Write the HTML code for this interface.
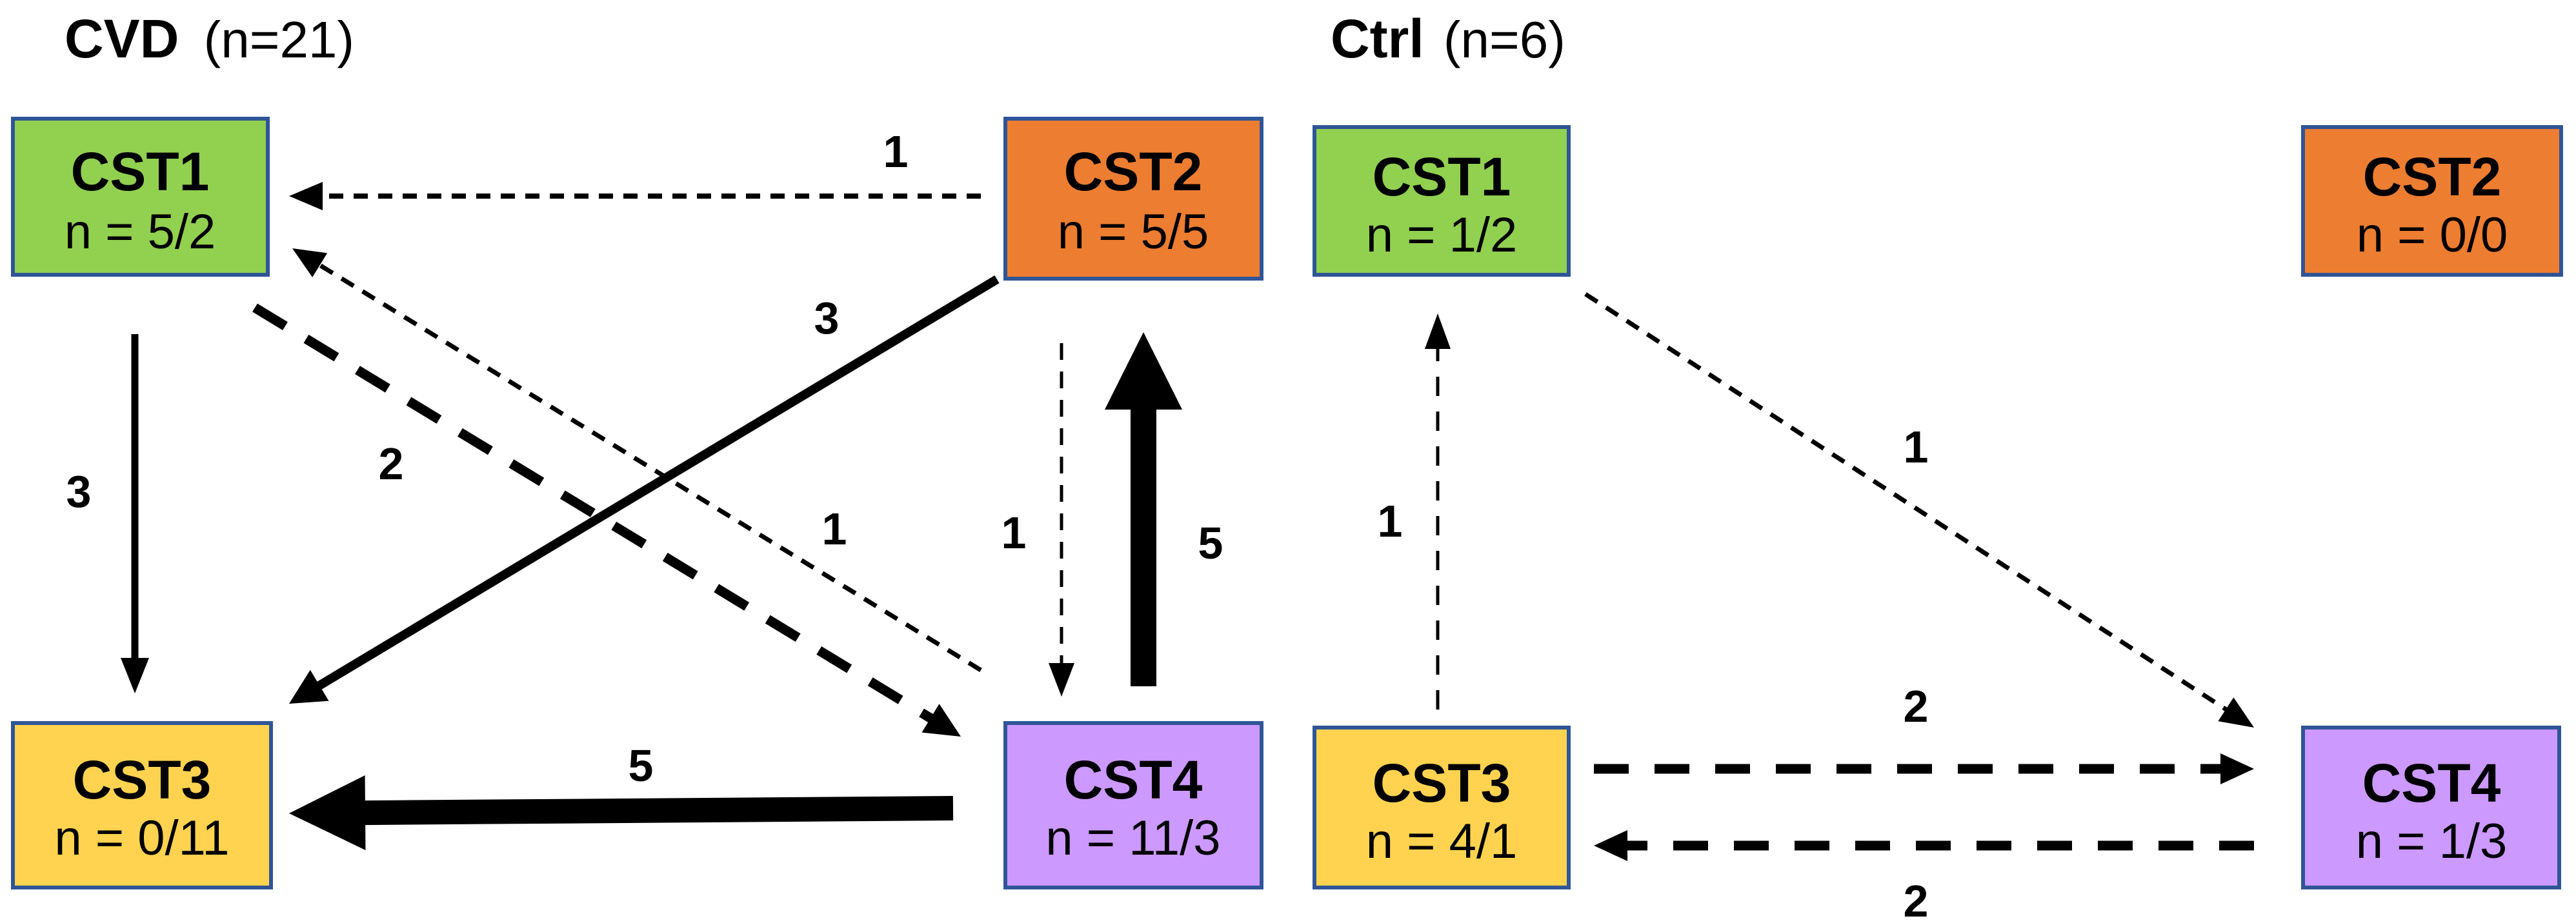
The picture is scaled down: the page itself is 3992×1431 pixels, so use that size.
<!DOCTYPE html>
<html><head><meta charset="utf-8"><style>
html,body{margin:0;padding:0;background:#fff;}
svg{display:block}
text{font-family:"Liberation Sans",sans-serif;fill:#000}
.b{font-weight:bold}
</style></head><body>
<svg id="s" width="3992" height="1431" viewBox="0 0 3992 1431" xmlns="http://www.w3.org/2000/svg">
<rect width="3992" height="1431" fill="#fff"/>
<!-- titles -->
<text x="100" y="89" font-size="84"><tspan class="b">CVD</tspan><tspan dx="16" font-size="80"> (n=21)</tspan></text>
<text x="2062" y="89" font-size="84"><tspan class="b">Ctrl</tspan><tspan dx="8" font-size="80"> (n=6)</tspan></text>
<g stroke="#2F5597" stroke-width="6">
<rect x="20" y="184" width="395" height="242" fill="#92D050"/>
<rect x="1558" y="184" width="397" height="248" fill="#ED7D31"/>
<rect x="20" y="1121" width="400" height="255" fill="#FFD34F"/>
<rect x="1558" y="1121" width="397" height="255" fill="#CC99FF"/>
<rect x="2037" y="197" width="394" height="229" fill="#92D050"/>
<rect x="3569" y="197" width="400" height="229" fill="#ED7D31"/>
<rect x="2037" y="1128" width="394" height="248" fill="#FFD34F"/>
<rect x="3569" y="1128" width="397" height="248" fill="#CC99FF"/>
</g>
<g text-anchor="middle">
<text class="b" x="217" y="295" font-size="84">CST1</text><text x="217" y="385" font-size="76">n = 5/2</text>
<text class="b" x="1756" y="295" font-size="84">CST2</text><text x="1756" y="385" font-size="76">n = 5/5</text>
<text class="b" x="220" y="1238" font-size="84">CST3</text><text x="220" y="1325" font-size="76">n = 0/11</text>
<text class="b" x="1756" y="1238" font-size="84">CST4</text><text x="1756" y="1325" font-size="76">n = 11/3</text>
<text class="b" x="2234" y="303" font-size="84">CST1</text><text x="2234" y="390" font-size="76">n = 1/2</text>
<text class="b" x="3769" y="303" font-size="84">CST2</text><text x="3769" y="390" font-size="76">n = 0/0</text>
<text class="b" x="2234" y="1243" font-size="84">CST3</text><text x="2234" y="1330" font-size="76">n = 4/1</text>
<text class="b" x="3768" y="1243" font-size="84">CST4</text><text x="3768" y="1330" font-size="76">n = 1/3</text>
</g>
<g text-anchor="middle" class="b" font-size="70">
<text class="b" x="1388" y="259">1</text>
<text class="b" x="1281" y="517">3</text>
<text class="b" x="122" y="786">3</text>
<text class="b" x="606" y="743">2</text>
<text class="b" x="1293" y="844">1</text>
<text class="b" x="1571" y="850">1</text>
<text class="b" x="1876" y="866">5</text>
<text class="b" x="993" y="1211">5</text>
<text class="b" x="2969" y="717">1</text>
<text class="b" x="2154" y="832">1</text>
<text class="b" x="2969" y="1119">2</text>
<text class="b" x="2969" y="1421">2</text>
</g>
<g id="arrows"></g>
</svg>
<script>
var g=document.getElementById('arrows');var NS='http://www.w3.org/2000/svg';
function A(x1,y1,x2,y2,w,L,W,dash){
 var dx=x2-x1,dy=y2-y1,d=Math.sqrt(dx*dx+dy*dy),ux=dx/d,uy=dy/d,px=-uy,py=ux;
 var bx=x2-ux*L,by=y2-uy*L;
 var l=document.createElementNS(NS,'line');
 l.setAttribute('x1',x1);l.setAttribute('y1',y1);l.setAttribute('x2',bx+ux*2);l.setAttribute('y2',by+uy*2);
 l.setAttribute('stroke','#000');l.setAttribute('stroke-width',w);
 if(dash)l.setAttribute('stroke-dasharray',dash);
 g.appendChild(l);
 var p=document.createElementNS(NS,'polygon');
 p.setAttribute('points',x2+','+y2+' '+(bx+px*W)+','+(by+py*W)+' '+(bx-px*W)+','+(by-py*W));
 p.setAttribute('fill','#000');g.appendChild(p);
}
A(1520,304,448,304,8,52,22,'22 16');
A(1520,1039,453,385,7,50,22,'22 16');
A(395,477,1489,1142,15,55,26,'55 38');
A(1545,433,448,1091,14,55,28,null);
A(209,518,209,1075,11,55,22,null);
A(1645,532,1645,1080,5,52,20,'26 18');
A(1772,1064,1772,515,40,120,60,null);
A(1477,1253,448,1261,38,118,58,null);
A(2228,1100,2228,486,5,55,20,'30 24');
A(2457,456,3493,1128,7,52,22,'22 16');
A(2470,1192,3493,1192,15,52,24,'54 40');
A(3493,1311,2470,1311,15,52,24,'54 40');
</script>
</body></html>
